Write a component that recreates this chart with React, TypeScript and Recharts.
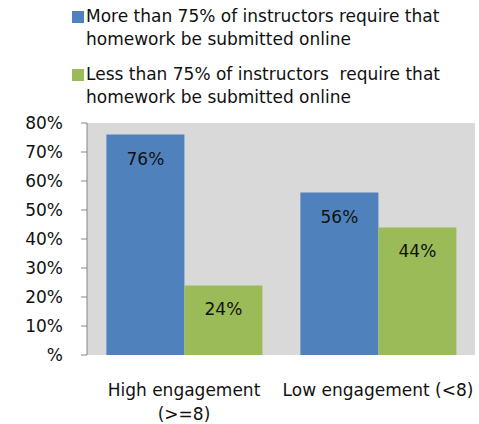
import React from "react";
import { BarChart, Bar, XAxis, YAxis, CartesianGrid, Legend, LabelList } from "recharts";

const categories = ["High engagement (>=8)", "Low engagement (<8)"];
const categoryLines = [["High engagement", "(>=8)"], ["Low engagement (<8)"]];
const moreThan75 = [76, 56];
const lessThan75 = [24, 44];
const seriesNames = [
  ["More than 75% of instructors require that", "homework be submitted online"],
  ["Less than 75% of instructors  require that", "homework be submitted online"],
];
const yTicks = [0, 10, 20, 30, 40, 50, 60, 70, 80];

const BLUE = "#4F81BD";
const GREEN = "#9BBB59";
const FONT = "'DejaVu Sans', sans-serif";
const FS = 17;

const data = categories.map((c, i) => ({ name: c, idx: i, more: moreThan75[i], less: lessThan75[i] }));

const LegendContent = () => (
  <div style={{ position: "absolute", left: 72, top: 5, fontFamily: FONT, fontSize: FS, color: "#111", lineHeight: "23px", whiteSpace: "pre" }}>
    {[BLUE, GREEN].map((col, i) => (
      <div key={i} style={{ position: "relative", marginBottom: 12 }}>
        <span style={{ position: "absolute", left: 0, top: 6, width: 12, height: 12, background: col }} />
        <div style={{ marginLeft: 14 }}>
          {seriesNames[i].map((l, j) => (
            <div key={j}>{l}</div>
          ))}
        </div>
      </div>
    ))}
  </div>
);

const CatTick = (props: any) => {
  const { x, y, index } = props;
  const lines = categoryLines[index] || [];
  return (
    <g>
      {lines.map((l, j) => (
        <text key={j} x={x} y={y + 33 + j * 24} textAnchor="middle" fontFamily={FONT} fontSize={FS} fill="#111">
          {l}
        </text>
      ))}
    </g>
  );
};

export default function App() {
  return (
    <div style={{ position: "absolute", left: 0, top: 0 }}>
      <BarChart width={479} height={424} data={data} margin={{ top: 123, right: 4, bottom: 0, left: 0 }} barCategoryGap="10%" barGap={0}>
        <CartesianGrid fill="#D9D9D9" stroke="none" horizontal={false} vertical={false} />
        <XAxis xAxisId="b" type="number" domain={[0, 2]} ticks={[0, 1, 2]} height={0} tick={false} tickSize={7} stroke="#868686" />
        <XAxis xAxisId="c" dataKey="name" height={69} tick={<CatTick />} tickLine={false} axisLine={false} interval={0} />
        <YAxis
          width={87}
          domain={[0, 80]}
          ticks={yTicks}
          tickSize={6}
          tickMargin={18}
          stroke="#868686"
          tickFormatter={(v: number) => (v === 0 ? "%" : `${v}%`)}
          tick={{ fill: "#111", fontSize: FS, fontFamily: FONT }}
        />
        <Legend layout="horizontal" verticalAlign="middle" align="center" wrapperStyle={{ top: 0, left: 0, width: 479, height: 0 }} content={<LegendContent />} />
        <Bar xAxisId="c" dataKey="more" fill={BLUE} isAnimationActive={false}>
          <LabelList dataKey="more" position="insideTop" offset={18} formatter={(v: number) => `${v}%`} fill="#111" fontSize={FS} fontFamily={FONT} />
        </Bar>
        <Bar xAxisId="c" dataKey="less" fill={GREEN} isAnimationActive={false}>
          <LabelList dataKey="less" position="insideTop" offset={18} formatter={(v: number) => `${v}%`} fill="#111" fontSize={FS} fontFamily={FONT} />
        </Bar>
      </BarChart>
    </div>
  );
}
